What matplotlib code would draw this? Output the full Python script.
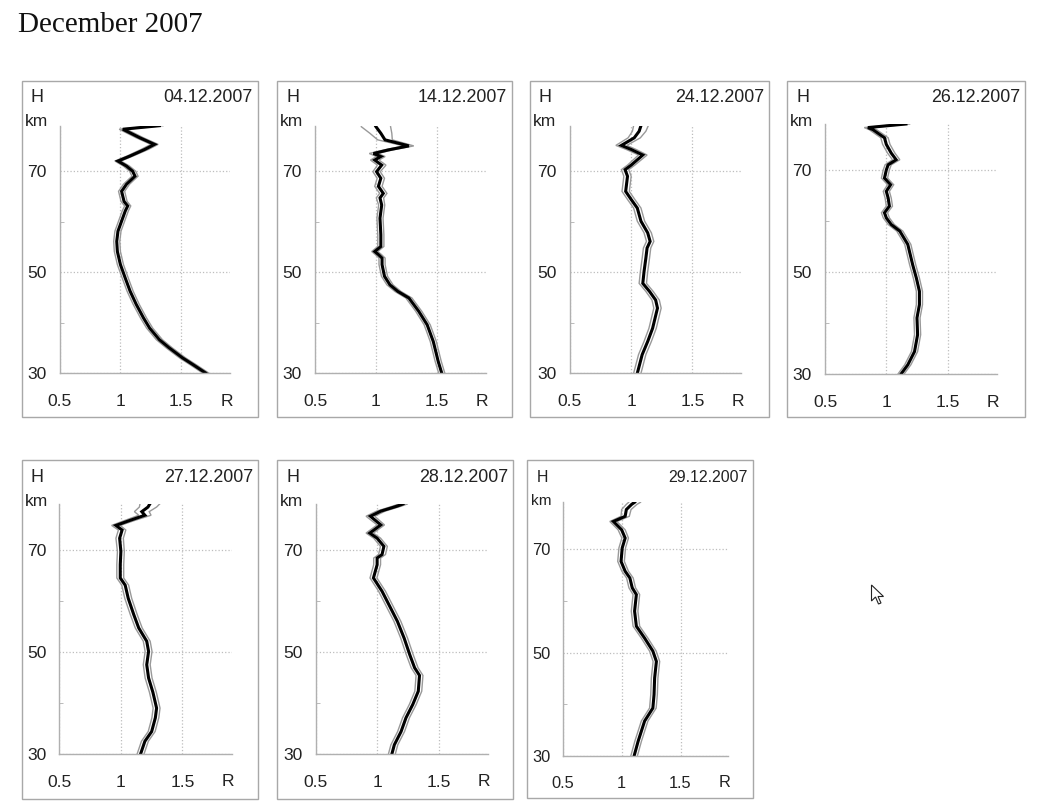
import matplotlib
matplotlib.use('Agg')
import matplotlib.pyplot as plt
import matplotlib.patches as mpatches
from matplotlib.ticker import FixedLocator

plt.rcParams['font.family'] = ['Liberation Sans', 'DejaVu Sans']

# Lidar-like profiles R(H), December 2007.
# each day: heights (km), R values, half-width of the grey envelope
h_0412 = [30, 31.6, 33, 35, 36.6, 38.9, 40.9, 43.6, 46.2, 48.8,
          51.5, 54.1, 56.1, 58.1, 60.1, 62.1, 63.1, 64, 66, 67.4,
          69, 70, 71, 72, 73, 74.3, 75.3, 76.6, 78.3, 79]
r_0412 = [1.70, 1.60, 1.51, 1.40, 1.32, 1.24, 1.19, 1.13, 1.08, 1.04,
          1.00, 0.975, 0.97, 0.98, 1.01, 1.04, 1.06, 1.03, 1.01, 1.05,
          1.12, 1.10, 1.05, 0.98, 1.08, 1.20, 1.28, 1.16, 1.02, 1.32]
e_0412 = [0.025, 0.025, 0.025, 0.025, 0.025, 0.025, 0.025, 0.025, 0.025, 0.025,
          0.025, 0.025, 0.025, 0.025, 0.025, 0.025, 0.025, 0.025, 0.025, 0.025,
          0.025, 0.025, 0.025, 0.025, 0.025, 0.03, 0.03, 0.03, 0.03, 0.03]

h_1412 = [30, 32.4, 36.3, 39.6, 42.3, 44.9, 46.2, 47.5, 49.2, 51.5,
          52.8, 53.5, 54.1, 55.1, 57.4, 60.7, 63.3, 64.7, 65.6, 67,
          68.6, 69.9, 71.2, 72.2, 72.9, 73.5, 74.2, 75, 76.2, 77.5, 78.8]
r_1412 = [1.54, 1.51, 1.47, 1.42, 1.35, 1.27, 1.18, 1.115, 1.07, 1.05,
          1.05, 1.02, 0.99, 1.04, 1.04, 1.033, 1.047, 1.033, 1.06, 1.02,
          1.04, 1.005, 1.047, 0.99, 1.04, 0.98, 1.10, 1.27, 1.074, 1.04, 1.0]
e_1412 = [0.025, 0.025, 0.025, 0.025, 0.025, 0.025, 0.025, 0.025, 0.025, 0.025,
          0.025, 0.025, 0.025, 0.025, 0.025, 0.025, 0.025, 0.03, 0.03, 0.03,
          0.03, 0.03, 0.035, 0.035, 0.035, 0.035, 0.035, 0.04, 0.06, 0.09, 0.12]

h_2412 = [30, 33.7, 36.3, 38.9, 42.9, 44.5, 46.2, 47.8, 50.1, 52.8,
          54.8, 56.1, 57.8, 60.1, 62.7, 64.4, 66, 68, 69, 70.3,
          71.2, 73.2, 74.3, 75.1, 76.6, 77.9, 79]
r_2412 = [1.05, 1.09, 1.135, 1.175, 1.215, 1.20, 1.15, 1.095, 1.105, 1.12,
          1.13, 1.155, 1.135, 1.08, 1.05, 1.0, 0.955, 0.965, 0.97, 0.95,
          1.0, 1.095, 1.0, 0.92, 1.025, 1.065, 1.08]
e_2412 = [0.03, 0.03, 0.03, 0.03, 0.03, 0.03, 0.03, 0.03, 0.03, 0.03,
          0.03, 0.03, 0.03, 0.03, 0.03, 0.03, 0.03, 0.03, 0.03, 0.03,
          0.03, 0.035, 0.04, 0.045, 0.05, 0.055, 0.06]

h_2612 = [30, 31.8, 34.4, 37.7, 41, 43.6, 46.2, 48.8, 51.4, 55.4,
          58, 59.3, 60.6, 61.6, 62.9, 64.5, 65.8, 67.1, 68.4, 70,
          71, 72, 73.3, 75, 76.3, 77.9, 78.3, 79]
r_2612 = [1.12, 1.175, 1.23, 1.255, 1.25, 1.27, 1.27, 1.245, 1.215, 1.175,
          1.11, 1.04, 1.0, 0.985, 1.025, 1.015, 1.0, 1.035, 0.985, 1.0,
          1.015, 1.08, 1.04, 1.0, 0.985, 0.89, 0.85, 1.16]
e_2612 = [0.025, 0.025, 0.025, 0.025, 0.025, 0.025, 0.025, 0.025, 0.025, 0.025,
          0.025, 0.025, 0.025, 0.025, 0.025, 0.025, 0.025, 0.025, 0.025, 0.025,
          0.025, 0.03, 0.03, 0.03, 0.03, 0.03, 0.03, 0.03]

h_2712 = [30, 32.5, 34.4, 37.1, 39, 42.1, 44.9, 47.5, 50.1, 52.1,
          54.7, 57.3, 60.5, 63.1, 64.5, 67.1, 69.7, 72.3, 73.9, 74.8,
          75.8, 76.8, 77.5, 78.4, 79]
r_2712 = [1.16, 1.195, 1.25, 1.28, 1.29, 1.26, 1.225, 1.21, 1.225, 1.21,
          1.145, 1.105, 1.06, 1.035, 0.995, 0.995, 1.0, 0.99, 1.01, 0.96,
          1.075, 1.195, 1.17, 1.22, 1.235]
e_2712 = [0.028, 0.028, 0.028, 0.028, 0.028, 0.028, 0.028, 0.028, 0.028, 0.028,
          0.028, 0.028, 0.028, 0.028, 0.028, 0.028, 0.028, 0.03, 0.03, 0.035,
          0.04, 0.05, 0.06, 0.07, 0.08]

h_2812 = [30, 31.8, 34.4, 37.1, 39.7, 42.3, 45.4, 46.9, 49.5, 52.7,
          56, 58.6, 61.9, 64.5, 65.8, 67.1, 68.4, 69.1, 70.7, 72.3,
          73.3, 74.9, 76.6, 77.6, 78.6, 79]
r_2812 = [1.12, 1.14, 1.195, 1.235, 1.29, 1.335, 1.345, 1.305, 1.265, 1.22,
          1.165, 1.11, 1.04, 0.97, 0.985, 1.0, 1.0, 1.04, 1.055, 1.0,
          0.94, 1.03, 0.945, 1.03, 1.165, 1.21]
e_2812 = [0.028, 0.028, 0.028, 0.028, 0.028, 0.028, 0.028, 0.028, 0.028, 0.028,
          0.028, 0.028, 0.028, 0.028, 0.028, 0.028, 0.028, 0.028, 0.028, 0.028,
          0.03, 0.03, 0.035, 0.035, 0.035, 0.035]

h_2912 = [30, 32.9, 36.8, 39.3, 41.9, 45.1, 48.3, 50.3, 52.8, 55.1,
          58, 61.2, 62.5, 64.4, 65.7, 67.6, 70.2, 72.1, 73.7, 75.3,
          76.3, 77.6, 78.6, 79]
r_2912 = [1.105, 1.14, 1.195, 1.265, 1.275, 1.28, 1.295, 1.265, 1.195, 1.125,
          1.11, 1.125, 1.09, 1.07, 1.03, 0.995, 1.005, 1.03, 1.0, 0.93,
          1.03, 1.04, 1.085, 1.11]
e_2912 = [0.028, 0.028, 0.028, 0.028, 0.028, 0.028, 0.028, 0.028, 0.028, 0.028,
          0.028, 0.028, 0.028, 0.028, 0.028, 0.028, 0.028, 0.028, 0.03, 0.03,
          0.035, 0.04, 0.045, 0.05]

dates = ['04.12.2007', '14.12.2007', '24.12.2007', '26.12.2007',
         '27.12.2007', '28.12.2007', '29.12.2007']
x_ticks = [0.5, 1, 1.5]
x_ticklabels = ['0.5', '1', '1.5']
y_ticks = [30, 50, 70]
y_minor = [40, 60]

W, HP = 1037, 811


def fx(x):
    return x / W


def fy(y):
    return 1 - y / HP


# panel layout in pixels: frame box, axes box (left, top, right, bottom),
# tick label size, header text size
layout = [
    ((22, 81, 258, 417), (59.5, 125.7, 230, 373), 12.6, 12.9),
    ((277, 81, 512, 417), (315, 125.7, 485.7, 373.3), 12.6, 12.9),
    ((530, 81, 769, 417), (570, 125.7, 741.3, 373.3), 12.6, 12.9),
    ((787, 81, 1025, 417), (825, 124, 996.7, 374), 12.6, 12.9),
    ((22, 460, 258, 799), (59.3, 504, 231.7, 754), 12.6, 12.9),
    ((277, 460, 513, 799), (315.7, 504, 487.7, 754), 12.6, 12.9),
    ((527, 460, 753, 798), (562.7, 502.3, 727.7, 756.3), 11.8, 11.4),
]
profiles = [(h_0412, r_0412, e_0412), (h_1412, r_1412, e_1412),
            (h_2412, r_2412, e_2412), (h_2612, r_2612, e_2612),
            (h_2712, r_2712, e_2712), (h_2812, r_2812, e_2812),
            (h_2912, r_2912, e_2912)]

fig = plt.figure(figsize=(W / 100, HP / 100), dpi=100)
fig.patch.set_facecolor('white')

fig.text(fx(18), fy(25), 'December 2007', family=['Liberation Serif', 'DejaVu Serif'],
         fontsize=21, ha='left', va='center', color='#111111')

for date, (h, r, e), (box, axb, fs, hs) in zip(dates, profiles, layout):
    bx0, by0, bx1, by1 = box
    fig.add_artist(mpatches.Rectangle((fx(bx0), fy(by1)), fx(bx1 - bx0), (by1 - by0) / HP,
                                      transform=fig.transFigure, fill=False,
                                      edgecolor='#a8a8a8', linewidth=1.0))
    ax0, ay0, ax1, ay1 = axb
    ax = fig.add_axes([fx(ax0), fy(ay1), fx(ax1 - ax0), (ay1 - ay0) / HP])
    ax.set_xlim(0.5, 1.9)
    ax.set_ylim(30, 79)

    lo = [ri - ei for ri, ei in zip(r, e)]
    hi = [ri + ei for ri, ei in zip(r, e)]
    ax.plot(lo, h, color='#999999', lw=1.0, solid_joinstyle='miter')
    ax.plot(hi, h, color='#999999', lw=1.0, solid_joinstyle='miter')
    ax.plot(r, h, color='black', lw=2.2, solid_joinstyle='miter')

    for s in ['top', 'right']:
        ax.spines[s].set_visible(False)
    for s in ['left', 'bottom']:
        ax.spines[s].set_color('#b0b0b0')
        ax.spines[s].set_linewidth(1.0)

    ax.set_xticks(x_ticks)
    ax.set_xticklabels(x_ticklabels)
    ax.set_yticks(y_ticks)
    ax.yaxis.set_minor_locator(FixedLocator(y_minor))
    ax.grid(True, which='major', color='#bdbdbd', linestyle=':', linewidth=0.9)
    ax.tick_params(axis='both', which='major', length=0, labelsize=fs, colors='#222222')
    ax.tick_params(axis='x', pad=fs * 1.2)
    ax.tick_params(axis='y', pad=fs * 0.75)
    ax.tick_params(axis='y', which='minor', direction='in', length=3, color='#b0b0b0')

    fig.text(fx(bx0 + 15.5), fy(by0 + 17), 'H', fontsize=hs, ha='center', va='center',
             color='#222222')
    fig.text(fx(bx0 + 14.5), fy(by0 + 41), 'km', fontsize=hs * 0.97, ha='center',
             va='center', color='#222222')
    fig.text(fx(bx1 - 5), fy(by0 + 17), date, fontsize=hs, ha='right', va='center',
             color='#222222')
    fig.text(fx(ax1 - 3.5), fy(ay1 + 28 * fs / 12.6), 'R', fontsize=fs, ha='center',
             va='center', color='#222222')

# mouse pointer left in the screenshot
cursor = [(871.5, 585), (871.5, 601), (875.5, 597), (878.5, 604), (881, 603),
          (878, 596.5), (883.5, 596.5)]
fig.add_artist(mpatches.Polygon([(fx(x), fy(y)) for x, y in cursor], closed=True,
                                transform=fig.transFigure, facecolor='white',
                                edgecolor='#222222', linewidth=0.8))

plt.savefig('out.png', dpi=100, facecolor='white')
plt.close()
